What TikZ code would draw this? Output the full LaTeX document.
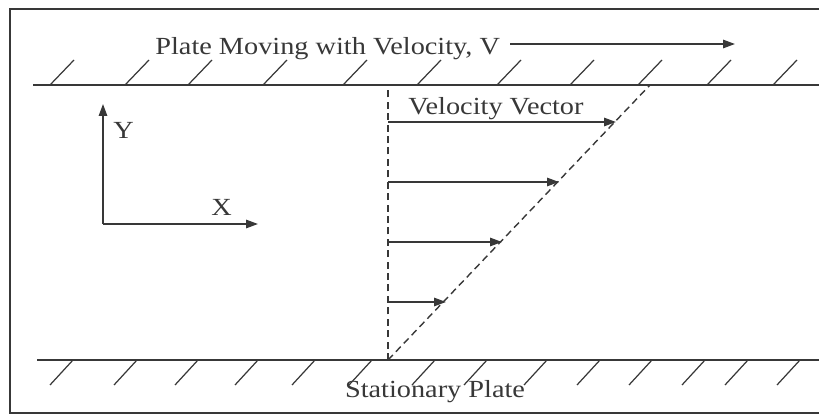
\documentclass[tikz,border=0pt]{standalone}
\usepackage{fontspec}
\setmainfont[FakeStretch=1.15]{Liberation Serif}
\usetikzlibrary{arrows.meta}
\definecolor{inkgray}{rgb}{0.22,0.22,0.22}
\tikzset{
  plate/.style={
    line width=0.9pt,
    draw=inkgray
  },
  hatch/.style={
    line width=0.7pt,
    draw=inkgray
  },
  profile/.style={
    dashed,
    dash pattern=on 4pt off 2.5pt,
    line width=0.8pt,
    draw=inkgray
  },
  vec/.style={
    -{Triangle[length=2.4mm,width=1.7mm]},
    line width=0.8pt,
    inkgray
  },
  lbl/.style={
    font=\fontsize{14}{16}\selectfont,
    text=inkgray,
    inner sep=0pt
  }
}
\begin{document}
\begin{tikzpicture}[x=0.02cm,y=-0.02cm]
\useasboundingbox (0,0) rectangle (819,415);
% frame
\draw[line width=1.3pt,inkgray] (819,9) -- (10,9) -- (10,413) -- (819,413);
% moving plate
\draw[plate] (33,85) -- (819,85);
\foreach \hx in {50,125,188,263,343,417,497,570,638,707,773}
  \draw[hatch] (\hx,85) -- ++(24,-25);
\node[lbl,anchor=base west] (moving) at (155,55) {Plate Moving with Velocity, V};
\coordinate (vtail) at (510,44);
\coordinate (vtip) at (735,44);
\draw[vec] (vtail) -- (vtip);
% stationary plate
\draw[plate] (37,360) -- (819,360);
\foreach \hx in {73,137,198,258,315,372,435,487,547,600,652,705,748,800}
  \draw[hatch] (\hx,360) -- ++(-23,25);
\node[lbl,anchor=base] (fixed) at (435,398) {Stationary Plate};
% axes
\coordinate (o) at (103,224);
\coordinate (ytip) at (103,104);
\coordinate (xtip) at (258,224);
\draw[vec] (o) -- (ytip);
\draw[vec] (o) -- (xtip);
\node[lbl,anchor=base west] (ylbl) at (113,139) {Y};
\node[lbl,anchor=base west] (xlbl) at (211,216) {X};
% velocity profile
\coordinate (p0) at (388,360);
\coordinate (p1) at (388,85);
\coordinate (p2) at (650,85);
\draw[profile] (p0) -- (p1);
\draw[profile] (p0) -- (p2);
\node[lbl,anchor=base west] (vv) at (408,115) {Velocity Vector};
\foreach \vy/\vx in {122/616, 182/559, 242/502, 302/446}
  \draw[vec] (388,\vy) -- (\vx,\vy);
\end{tikzpicture}
\end{document}
